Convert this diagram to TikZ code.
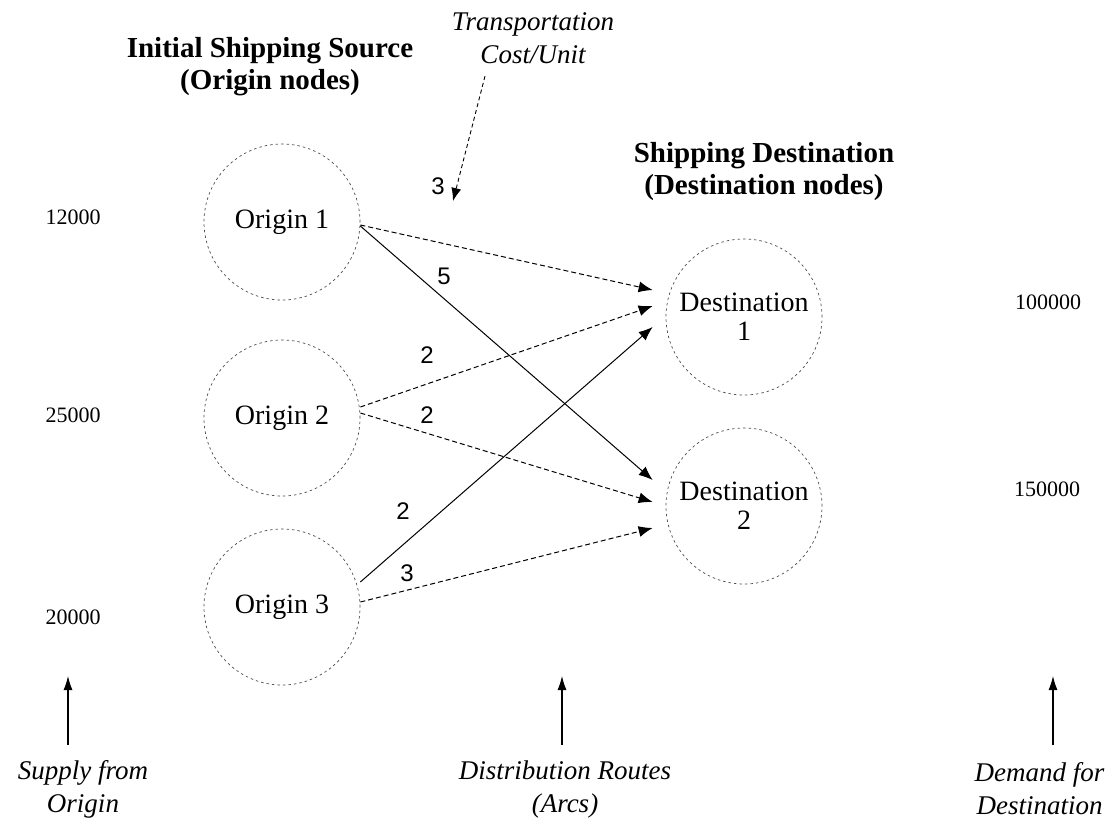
\documentclass[tikz,border=0pt]{standalone}
\usepackage{fontspec}
\setmainfont{Liberation Serif}
\newfontfamily\lblfont{Liberation Sans}
\usetikzlibrary{arrows.meta,calc}
\begin{document}
\begin{tikzpicture}[x=1pt,y=-1pt,
  circ/.style={circle,draw=black!70,line width=0.7pt,dash pattern=on 2.5pt off 3pt,minimum size=156pt,inner sep=0pt,align=center,font=\fontsize{28}{29}\selectfont},
  dasharrow/.style={line width=1pt,dash pattern=on 5pt off 3pt,-{Latex[length=14pt,width=11pt]}},
  solidarrow/.style={line width=1pt,-{Latex[length=14pt,width=11pt]}},
  upsarrow/.style={line width=1.1pt,-{Latex[length=14pt,width=9pt]}},
  cost/.style={font=\lblfont\fontsize{24}{26}\selectfont},
  num/.style={font=\fontsize{22}{24}\selectfont},
  title/.style={align=center,font=\bfseries\fontsize{29}{32}\selectfont},
  note/.style={align=center,font=\itshape\fontsize{27}{33}\selectfont}]
\useasboundingbox (0,0) rectangle (1112,820);
% titles
\node[title] (tsrc) at (270,67) {Initial Shipping Source\\(Origin nodes)};
\node[title] (tdst) at (764,172) {Shipping Destination\\(Destination nodes)};
\node[note] (tcost) at (533,38) {Transportation\\Cost/Unit};
% nodes
\node[circ] (o1) at (282,222) {Origin 1};
\node[circ] (o2) at (282,418) {Origin 2};
\node[circ] (o3) at (282,607) {Origin 3};
\node[circ] (d1) at (744,317) {Destination\\1};
\node[circ] (d2) at (744,506) {Destination\\2};
% supply / demand
\node[num] (s1) at (73,217) {12000};
\node[num] (s2) at (73,415) {25000};
\node[num] (s3) at (73,617) {20000};
\node[num] (m1) at (1048,302) {100000};
\node[num] (m2) at (1047,489) {150000};
% arcs
\draw[dasharrow] ([yshift=-3pt]o1.east) -- ([xshift=-13pt,yshift=27pt]d1.west);
\draw[solidarrow] ([yshift=-4pt]o1.east) -- ([xshift=-13pt,yshift=26pt]d2.west);
\draw[dasharrow] ([yshift=11pt]o2.east) -- ([xshift=-13pt,yshift=11pt]d1.west);
\draw[dasharrow] ([yshift=5pt]o2.east) -- ([xshift=-13pt,yshift=4pt]d2.west);
\draw[solidarrow] ([yshift=25pt]o3.east) -- ([xshift=-13pt,yshift=-10pt]d1.west);
\draw[dasharrow] ([yshift=5pt]o3.east) -- ([xshift=-13pt,yshift=-22pt]d2.west);
% cost labels
\node[cost] (c1) at (438,186) {3};
\node[cost] (c2) at (444,276) {5};
\node[cost] (c3) at (427,355) {2};
\node[cost] (c4) at (427,415) {2};
\node[cost] (c5) at (403,511) {2};
\node[cost] (c6) at (407,573) {3};
% cost pointer
\coordinate (ctip) at (453,201);
\draw[line width=0.9pt,dash pattern=on 4pt off 3pt,-{Latex[length=13pt,width=10pt]}] ([xshift=-48pt,yshift=-9pt]tcost.south) -- (ctip);
% bottom notes
\node[note] (nsup) at (83,789) {Supply from\\Origin};
\node[note] (ndis) at (565,789) {Distribution Routes\\(Arcs)};
\node[note,anchor=east] (ndem) at (1108,789) {Demand for\\Destination};
\coordinate (asup) at (68,676);
\coordinate (adis) at (562,676);
\coordinate (adem) at (1053,676);
\draw[upsarrow] (asup |- 0,745) -- (asup);
\draw[upsarrow] (adis |- 0,745) -- (adis);
\draw[upsarrow] (adem |- 0,745) -- (adem);
\end{tikzpicture}
\end{document}
